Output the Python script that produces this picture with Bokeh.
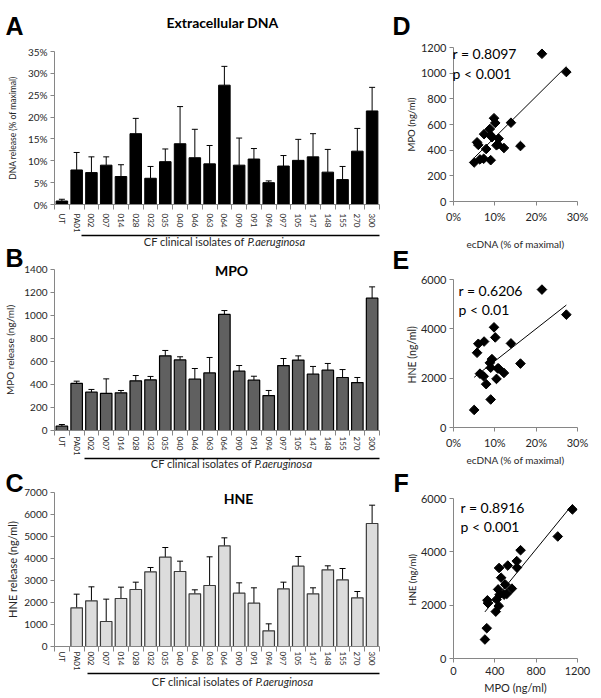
import numpy as np
from bokeh.plotting import figure
from bokeh.models import (ColumnDataSource, Range1d, FixedTicker, LinearAxis,
                          Whisker, TeeHead, PrintfTickFormatter, GridBox)
from bokeh.layouts import column, row
from bokeh.embed import file_html
from bokeh.resources import INLINE
from bokeh.core.properties import value

# ---------------- data ----------------
categories = ["UT", "PA01", "002", "007", "014", "028", "032", "035", "040", "046", "063",
              "064", "090", "091", "094", "097", "105", "147", "148", "155", "270", "300"]
dna = [0.8, 7.9, 7.3, 9.0, 6.4, 16.2, 6.0, 9.8, 13.9, 10.7, 9.3,
       27.3, 9.0, 10.4, 5.0, 8.8, 10.1, 10.9, 7.4, 5.7, 12.2, 21.4]
dna_upper = [1.2, 11.9, 10.9, 10.9, 9.1, 19.7, 8.7, 12.7, 22.4, 17.2, 13.5,
             31.6, 15.2, 12.8, 5.4, 11.2, 14.9, 16.2, 12.6, 8.7, 17.4, 26.8]
mpo = [38, 409, 333, 322, 328, 432, 441, 649, 614, 446, 501,
       1009, 516, 438, 304, 565, 612, 490, 525, 461, 417, 1151]
mpo_upper = [52, 429, 357, 449, 348, 478, 470, 696, 641, 539, 635,
             1043, 565, 472, 348, 626, 649, 557, 583, 530, 461, 1249]
hne = [0, 1758, 2076, 1136, 2182, 2591, 3394, 4061, 3409, 2394, 2773,
       4576, 2424, 1970, 712, 2621, 3652, 2394, 3485, 3030, 2212, 5591]
hne_upper = [0, 2379, 2712, 2152, 2697, 2924, 3591, 4500, 3879, 2576, 4076,
             4939, 2894, 2667, 1030, 2924, 4091, 2667, 3667, 3545, 2500, 6424]

panel_letters = ["A", "B", "C", "D", "E", "F"]
bar_titles = ["Extracellular DNA", "MPO", "HNE"]
caption_a = "CF clinical isolates of"
caption_b = "P.aeruginosa"
stats_r = ["r = 0.8097", "r = 0.6206", "r = 0.8916"]
stats_p = ["p < 0.001", "p < 0.01", "p < 0.001"]

AXIS = "#868686"
TXT = "#262626"
FONT = "Lato"
LETTER_FONT = "Liberation Sans"
TOTAL_W, TOTAL_H = 601, 698


def base_fig(W, H, bt, fh, bl, br, xr, yr):
    bb = H - bt - fh
    p = figure(width=W, height=H, x_range=xr, y_range=yr, output_backend="svg",
               toolbar_location=None, tools="", min_border_left=bl, min_border_right=br,
               min_border_top=bt, min_border_bottom=bb)
    p.outline_line_color = None
    p.grid.visible = False
    p.background_fill_color = "white"
    p.border_fill_color = "white"
    p.title.visible = False
    return p


def style_axis(ax, label, label_size, standoff, tick_size, tick_standoff=3):
    ax.axis_line_color = AXIS
    ax.major_tick_line_color = AXIS
    ax.minor_tick_line_color = None
    ax.major_tick_out = 4
    ax.major_tick_in = 0
    ax.major_label_text_font = FONT
    ax.major_label_text_font_size = f"{tick_size}px"
    ax.major_label_text_color = TXT
    ax.major_label_standoff = tick_standoff
    ax.axis_label = label
    ax.axis_label_text_font = FONT
    ax.axis_label_text_font_size = f"{label_size}px"
    ax.axis_label_text_font_style = "normal"
    ax.axis_label_text_color = TXT
    ax.axis_label_standoff = standoff


def bar_panel(vals, ups, ymax, ystep, pct, fill, edge, edge_w, ylabel, ylab_size,
              ylab_standoff, W, H, bt, fh, bl, br, ul_bounds, cat_standoff):
    n = len(categories)
    p = base_fig(W, H, bt, fh, bl, br, Range1d(-0.5, n - 0.5), Range1d(0, ymax))
    x = list(range(n))
    src = ColumnDataSource(dict(x=x, v=vals))
    p.vbar(x="x", top="v", width=0.78, source=src, fill_color=fill,
           line_color=edge, line_width=edge_w)
    wx = [i for i in x if ups[i] > vals[i]]
    wsrc = ColumnDataSource(dict(x=wx, lo=[vals[i] for i in wx], up=[ups[i] for i in wx]))
    p.add_layout(Whisker(source=wsrc, base="x", lower="lo", upper="up",
                         line_color="black", line_width=1,
                         upper_head=TeeHead(size=6, line_color="black", line_width=1),
                         lower_head=None))
    yax = p.yaxis[0]
    style_axis(yax, ylabel, ylab_size, ylab_standoff, 10)
    yax.ticker = FixedTicker(ticks=list(range(0, ymax + 1, ystep)))
    if pct:
        yax.formatter = PrintfTickFormatter(format="%d%%")
    xax = p.xaxis[0]
    style_axis(xax, None, 10, 0, 8)
    xax.ticker = FixedTicker(ticks=x, minor_ticks=[i - 0.5 for i in range(n + 1)])
    xax.major_label_overrides = {i: c for i, c in enumerate(categories)}
    xax.major_label_orientation = "vertical"
    xax.major_tick_out = 0
    xax.major_tick_line_color = None
    xax.minor_tick_line_color = AXIS
    xax.minor_tick_out = 5
    xax.minor_tick_in = 0
    xax.major_label_standoff = cat_standoff
    ul = LinearAxis(ticker=FixedTicker(ticks=[]), bounds=ul_bounds, axis_line_color="black",
                    axis_line_width=1.5, major_tick_line_color=None,
                    minor_tick_line_color=None, major_label_text_font_size="0px",
                    major_tick_out=0, minor_tick_out=0)
    p.add_layout(ul, "below")
    return p


def scatter_panel(xs, ys, xmax, xstep, pct, ymax, ystep, xlabel, xlab_size, ylabel,
                  ylab_size, W, H, bt, fh, bl, br, tick_so, xlab_so, ylab_so):
    p = base_fig(W, H, bt, fh, bl, br, Range1d(0, xmax), Range1d(0, ymax))
    src = ColumnDataSource(dict(x=xs, y=ys))
    p.scatter(x="x", y="y", source=src, marker="square", angle=np.pi / 4, size=6.8,
              fill_color="black", line_color="black")
    k, b = np.polyfit(xs, ys, 1)
    xl = [min(xs), max(xs)]
    p.line(x=xl, y=[k * v + b for v in xl], line_color="black", line_width=1)
    xax = p.xaxis[0]
    style_axis(xax, xlabel, xlab_size, xlab_so, 11, tick_so)
    xax.ticker = FixedTicker(ticks=list(range(0, xmax + 1, xstep)))
    if pct:
        xax.formatter = PrintfTickFormatter(format="%d%%")
    yax = p.yaxis[0]
    style_axis(yax, ylabel, ylab_size, ylab_so, 11)
    yax.ticker = FixedTicker(ticks=list(range(0, ymax + 1, ystep)))
    return p


LW = 393
RW = TOTAL_W - LW

figA = bar_panel(dna, dna_upper, 35, 5, True, "black", "black", 1,
                 "DNA release (% of maximal)", 8.5, 7, LW, 240, 51, 153, 53, 14,
                 (1.32, 21.77), 4)
figB = bar_panel(mpo, mpo_upper, 1400, 200, False, "#606060", "black", 1.2,
                 "MPO release (ng/ml)", 10, 5, LW, 222, 29, 161, 54, 5,
                 (1.54, 21.5), 1)
figC = bar_panel(hne, hne_upper, 7000, 1000, False, "#dcdcdc", "#3a3a3a", 1.2,
                 "HNE release (ng/ml)", 11, 2, LW, 236, 30, 154, 54, 3,
                 (1.73, 21.7), 0)

iso_dna = dna[1:]
iso_mpo = mpo[1:]
iso_hne = hne[1:]

figD = scatter_panel(iso_dna, iso_mpo, 30, 10, True, 1200, 200, "ecDNA (% of maximal)", 10,
                     "MPO (ng/ml)", 9.5, RW, 252, 47, 156, 55, 24, 4, 12, 1)
figE = scatter_panel(iso_dna, iso_hne, 30, 10, True, 6000, 2000, "ecDNA (% of maximal)", 10,
                     "HNE  (ng/ml)", 10.5, RW, 216, 27, 152, 60, 21, 4, 2, 0)
figF = scatter_panel(iso_mpo, iso_hne, 1200, 400, False, 6000, 2000, "MPO (ng/ml)", 11,
                     "HNE  (ng/ml)", 9.5, RW, 230, 30, 160, 59, 21, 4, 3, 0)

main = row(column(figA, figB, figC), column(figD, figE, figF))

# ---------- transparent overlay for texts that sit outside the plot frames ----------
ov = figure(width=TOTAL_W, height=TOTAL_H, x_range=Range1d(0, TOTAL_W),
            y_range=Range1d(TOTAL_H, 0), x_axis_type=None, y_axis_type=None,
            min_border=0, output_backend="svg", toolbar_location=None, tools="")
ov.title.visible = False
ov.outline_line_color = None
ov.background_fill_color = None
ov.border_fill_color = None

# panel letters
ov.text(x=[5, 5, 5, 392, 392, 393], y=[25, 257, 482, 25, 259, 482], text=panel_letters,
        text_font=value(LETTER_FONT), text_font_size="25px", text_font_style="bold",
        text_align="left", text_baseline="alphabetic", text_color="black")
# bar chart titles
ov.text(x=[222, 231, 238], y=[22, 270, 498], text=bar_titles, text_font=value(FONT),
        text_font_size="14px", text_font_style="bold", text_align="center",
        text_baseline="middle", text_color="black")
# captions under the isolate groups
cap_x = [244, 251, 252]
cap_y = [241, 463, 681]
ov.text(x=cap_x, y=cap_y, text=[caption_a] * 3, text_font=value(FONT),
        text_font_size="11px", text_align="right", text_baseline="middle", text_color=TXT)
ov.text(x=[v + 3 for v in cap_x], y=cap_y, text=[caption_b] * 3, text_font=value(FONT),
        text_font_size="11px", text_font_style="italic", text_align="left",
        text_baseline="middle", text_color=TXT)
# correlation statistics
st_x = [452, 458, 460]
ov.text(x=st_x, y=[53, 290, 507], text=stats_r, text_font=value(FONT),
        text_font_size="14px", text_align="left", text_baseline="middle", text_color="black")
ov.text(x=st_x, y=[73, 309, 526], text=stats_p, text_font=value(FONT),
        text_font_size="14px", text_align="left", text_baseline="middle", text_color="black")

layout = GridBox(children=[(main, 0, 0), (ov, 0, 0)])

with open("out.html", "w") as f:
    f.write(file_html(layout, INLINE, title="Figure"))
